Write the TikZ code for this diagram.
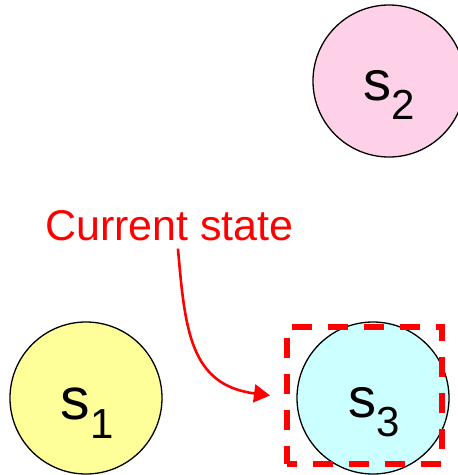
\documentclass[tikz,border=0pt]{standalone}
\usepackage{fontspec}
\setmainfont{Liberation Sans}
\usetikzlibrary{arrows.meta}
\definecolor{yel}{HTML}{FFFF99}
\definecolor{pnk}{HTML}{FFD1E8}
\definecolor{cyn}{HTML}{CCFFFF}
\definecolor{rd}{HTML}{FF0000}
\tikzset{
  state/.style={circle, draw=black, line width=1.3pt, minimum size=152pt, inner sep=0pt},
  slabel/.style={anchor=base, inner sep=0pt, font=\fontsize{56}{56}\selectfont},
  biglabel/.style={anchor=base, inner sep=0pt, font=\fontsize{59}{59}\selectfont},
  curbox/.style={draw=rd, line width=6pt, dash pattern=on 20pt off 16pt, dash phase=10pt, minimum width=155pt, minimum height=137pt, inner sep=0pt},
  redtxt/.style={text=rd, inner sep=0pt, font=\fontsize{43}{43}\selectfont},
  pointer/.style={draw=rd, line width=2.6pt, -{Triangle[length=16pt,width=18pt]}}
}
\newcommand{\mysub}[1]{\raisebox{-19pt}{\fontsize{42}{42}\selectfont #1}}
\begin{document}
\begin{tikzpicture}[x=1pt,y=-1pt]
\useasboundingbox (0,0) rectangle (458,475);
\begin{scope}
\clip (0,0) rectangle (458,475);
\node[state, fill=yel] (s1) at (86,398) {};
\node[state, fill=pnk] (s2) at (389,81) {};
\node[state, fill=cyn] (s3) at (373,398) {};
\end{scope}
\node[biglabel] (l1) at (87,419) {s\mysub{1}};
\node[slabel] (l2) at (389.5,100) {s\mysub{2}};
\node[slabel] (l3) at (374.5,417) {s\mysub{3}};
\node[curbox] (cur) at (364.5,395.5) {};
\node[redtxt, anchor=base west] (txt) at (45,240) {Current state};
\draw[pointer] ([xshift=8.5pt,yshift=-8pt]txt.south) .. controls (185,330) and (190,385) .. ([xshift=-14pt]cur.west);
\end{tikzpicture}
\end{document}
